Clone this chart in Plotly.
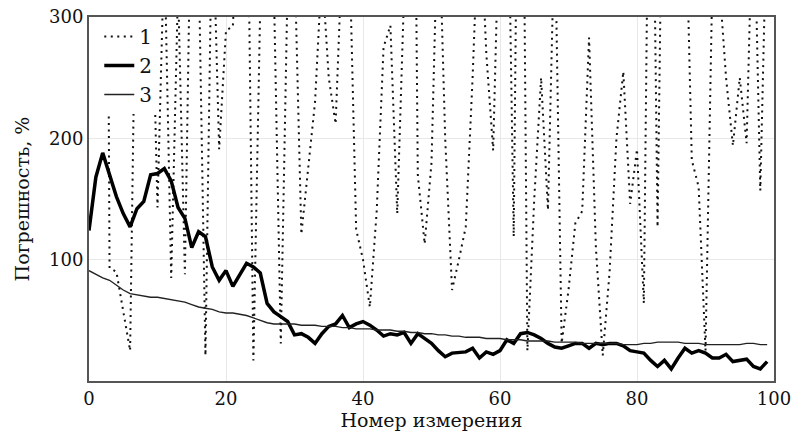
import plotly.graph_objects as go

# measurement number
x_meas = list(range(100))

# series 1 (dotted) - values above 300 run off the top of the chart
err1 = [500, 800, 1200, 93, 90, 58, 25, 416, 500, 376,
        143, 360, 85, 325, 88, 441, 350, 21, 400, 191,
        289, 292, 420, 490, 17, 310, 450, 320, 31, 330,
        350, 121, 174, 230, 340, 250, 212, 360, 360, 125,
        100, 61, 140, 275, 293, 138, 320, 800, 170, 113,
        180, 400, 200, 75, 100, 127, 250, 400, 270, 190,
        410, 480, 119, 700, 25, 150, 250, 141, 380, 31,
        75, 130, 140, 283, 110, 21, 90, 200, 255, 146,
        191, 64, 600, 127, 560, 700, 650, 420, 182, 160,
        25, 330, 330, 250, 194, 250, 196, 420, 157, 400]

# series 2 (thick)
err2 = [124, 168, 188, 170, 152, 138, 127, 142, 148, 170,
        171, 175, 165, 143, 134, 110, 123, 119, 94, 83,
        91, 78, 87, 97, 94, 89, 64, 57, 53, 49,
        38, 39, 36, 31, 39, 45, 47, 54, 44, 47,
        49, 46, 42, 37, 39, 38, 40, 31, 39, 35,
        31, 25, 20, 23, 23.5, 24, 27, 19, 24, 22,
        25, 34, 31, 39, 40, 38, 35, 31, 28, 27,
        29, 31, 31, 27, 31, 30, 31, 31, 29, 25,
        24, 23, 17, 12, 17, 10, 19, 27, 23, 25,
        23, 19, 19, 22, 16, 17, 18, 12, 10, 16]

# series 3 (thin)
err3 = [91, 88, 85, 83, 79, 75, 72, 71, 70, 69,
        69, 68, 67, 66, 65, 63, 61, 60, 59, 57,
        56, 56, 55, 54, 52, 50, 48, 47, 47, 47,
        47, 46, 46, 46, 45, 45, 45, 44, 44, 43,
        43, 43, 42, 42, 42, 41, 41, 40, 40, 39,
        39, 38, 38, 37, 37, 36, 36, 36, 35, 35,
        35, 34, 34, 34, 33, 33, 33, 33, 32, 32,
        32, 32, 31, 31, 31, 31, 31, 31, 30, 30,
        30, 31, 31, 32, 32, 32, 32, 31, 31, 31,
        30, 30, 30, 30, 30, 30, 31, 31, 30, 30]

series_names = ["1", "2", "3"]
x_ticks = [0, 20, 40, 60, 80, 100]
y_ticks = [100, 200, 300]

FONT = "DejaVu Serif"

fig = go.Figure()
fig.add_trace(go.Scatter(x=x_meas, y=err1, mode="lines", name=series_names[0],
                         line=dict(color="#111111", width=2, dash="2px,4.5px")))
fig.add_trace(go.Scatter(x=x_meas, y=err2, mode="lines", name=series_names[1],
                         line=dict(color="#000000", width=3.5)))
fig.add_trace(go.Scatter(x=x_meas, y=err3, mode="lines", name=series_names[2],
                         line=dict(color="#222222", width=1.4)))

axis_common = dict(
    showgrid=True, gridcolor="#e8e8e8", gridwidth=1,
    showline=True, mirror=True, linecolor="#555555", linewidth=2,
    ticks="", ticklen=0, zeroline=False,
    tickfont=dict(family=FONT, size=18, color="#111111"),
)

fig.update_layout(
    width=795, height=434,
    margin=dict(l=89, r=21, t=17, b=53),
    paper_bgcolor="white", plot_bgcolor="white",
    font=dict(family=FONT, color="#111111"),
    showlegend=True,
    legend=dict(x=0.015, y=1, xanchor="left", yanchor="top",
                bgcolor="white", borderwidth=0,
                font=dict(family=FONT, size=20, color="#111111"),
                traceorder="normal"),
    xaxis=dict(range=[0, 100], tickvals=x_ticks, ticktext=[str(t) for t in x_ticks],
               title=dict(text="Номер измерения", standoff=3,
                          font=dict(family=FONT, size=19, color="#111111")),
               automargin=False, **axis_common),
    yaxis=dict(range=[0, 300], tickvals=y_ticks, ticktext=[str(t) for t in y_ticks],
               title=dict(text="Погрешность, %", standoff=14,
                          font=dict(family=FONT, size=19, color="#111111")),
               automargin=False, **axis_common),
)

fig.write_html("out.html")
